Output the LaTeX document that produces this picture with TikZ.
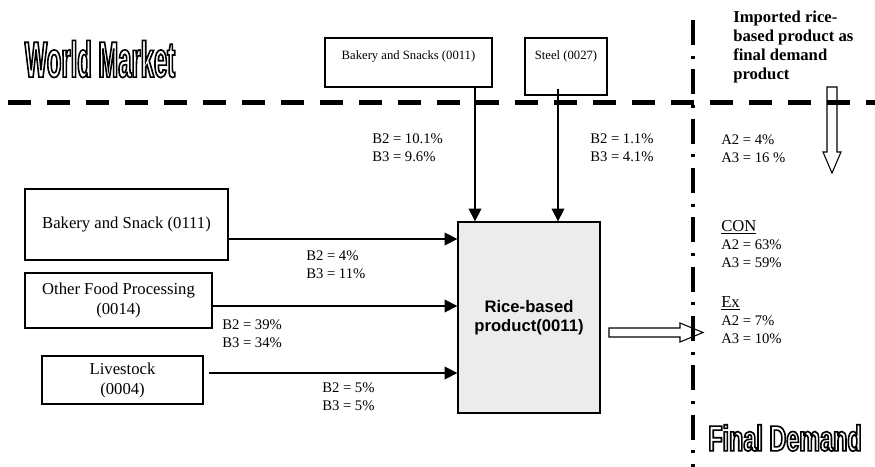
\documentclass[tikz,border=0pt]{standalone}
\usepackage{fontspec}
\setmainfont{Liberation Serif}
\newfontfamily\ricefont{Liberation Sans}
\newfontfamily\worldfont[FakeStretch=0.47]{Liberation Sans}
\newfontfamily\demandfont[FakeStretch=0.65]{Liberation Sans}
\usetikzlibrary{arrows.meta}
\newcommand\hollowtext[1]{\special{pdf:literal direct 2 Tr 1.2 w}\textcolor{white}{\special{pdf:literal direct 0 G}#1}\special{pdf:literal direct 0 Tr}}

\begin{document}
\begin{tikzpicture}[x=0.75pt,y=-0.75pt,
    box/.style={draw,line width=1pt,inner sep=0pt,align=center,font=\fontsize{12.5}{15}\selectfont},
    topbox/.style={box,font=\fontsize{9.5}{11}\selectfont},
    share/.style={anchor=west,inner sep=0pt,align=left,font=\fontsize{11}{13.5}\selectfont},
    flow/.style={-{Triangle[length=9.5pt,width=9.5pt]},line width=1.1pt},
    hollow/.style={line width=0.8pt,line join=miter},
    outlined/.style={inner sep=0pt}]
	\useasboundingbox (0,0) rectangle (875,467);
	
	\draw[line width=3.75pt,dash pattern=on 17.25pt off 12pt,dash phase=23.25pt] (0,103) -- (875,103);
	\draw[line width=3pt,dash pattern=on 18.75pt off 8pt on 2.25pt off 8pt] (693,20) -- (693,467);
	
	\node[outlined] (world) at (100,59) {\worldfont\bfseries\fontsize{38}{38}\selectfont\hollowtext{World Market}};
	\node[outlined] (final) at (785,438) {\demandfont\bfseries\fontsize{27}{27}\selectfont\hollowtext{Final Demand}};
	
	\node[topbox,minimum width=125.25pt,minimum height=36.75pt,
	      label={[anchor=north,yshift=-6.5pt,font=\fontsize{9.5}{11}\selectfont]north:Bakery and Snacks (0011)}] (imbakery) at (408.5,62.5) {};
	\node[topbox,minimum width=61.5pt,minimum height=42.75pt,
	      label={[anchor=north,yshift=-6.5pt,font=\fontsize{9.5}{11}\selectfont]north:Steel (0027)}] (imsteel) at (566,66.5) {};
	
	\node[box,minimum width=152.25pt,minimum height=53.25pt] (bakery) at (126.5,224.5) {Bakery and Snack (0111)};
	\node[box,minimum width=140.25pt,minimum height=41.25pt] (other) at (118.5,300.5) {Other Food Processing\\(0014)};
	\node[box,minimum width=120.75pt,minimum height=36pt] (livestock) at (122.5,380) {Livestock\\(0004)};
	\node[box,fill=gray!15,minimum width=106.5pt,minimum height=143.25pt,
	      font=\ricefont\bfseries\fontsize{12.5}{14}\selectfont] (rice) at (529,317.5) {Rice-based\\product(0011)};
	
	\draw[flow] (imbakery.south -| 475,0) -- (rice.north -| 475,0);
	\draw[flow] ([shift={(-8,-7)}]imsteel.south) -- (rice.north -| 558,0);
	\draw[flow] (bakery.east |- 0,239) -- (rice.west |- 0,239);
	\draw[flow] (other.east |- 0,306) -- (rice.west |- 0,306);
	\draw[flow] ([shift={(5,-7)}]livestock.east) -- (rice.west |- 0,373);
	
	\node[share] (bshare) at (372,148) {B2 = 10.1\%\\B3 = 9.6\%};
	\node[share] (sshare) at (590,148) {B2 = 1.1\%\\B3 = 4.1\%};
	\node[share] (kshare) at (306,265) {B2 = 4\%\\B3 = 11\%};
	\node[share] (oshare) at (222,334) {B2 = 39\%\\B3 = 34\%};
	\node[share] (lshare) at (322,397) {B2 = 5\%\\B3 = 5\%};
	
	\node[anchor=west,inner sep=0pt,align=left,font=\bfseries\fontsize{12.5}{14.3}\selectfont] (imported) at (733,47) {Imported rice-\\based product as\\final demand\\product};
	\node[share] (impshare) at (721,149) {A2 = 4\%\\A3 = 16 \%};
	\node[share] (con) at (721,244) {{\fontsize{12.5}{13.9}\selectfont\underline{CON}}\\A2 = 63\%\\A3 = 59\%};
	\node[share] (ex) at (721,320) {{\fontsize{12.5}{13.9}\selectfont\underline{Ex}}\\A2 = 7\%\\A3 = 10\%};
	
	\draw[hollow] (609,328) -- (680,328) -- (680,323) -- (703,332.5) -- (680,342) -- (680,337) -- (609,337) -- cycle;
	\draw[hollow] (827,87) -- (837,87) -- (837,152) -- (841,152) -- (832,173) -- (823,152) -- (827,152) -- cycle;
\end{tikzpicture}
\end{document}
